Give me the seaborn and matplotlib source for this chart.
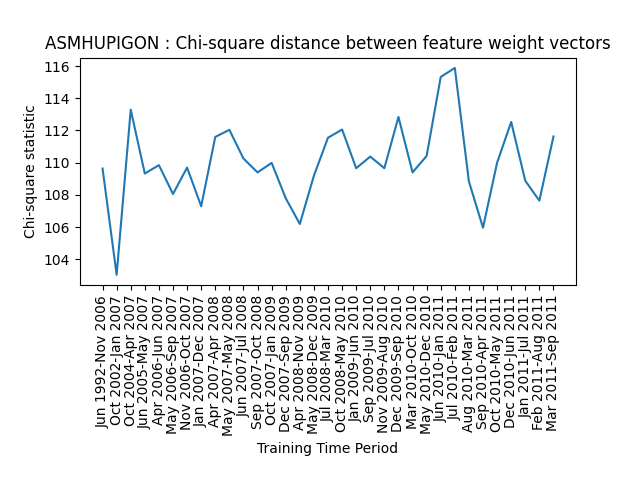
import matplotlib
matplotlib.use("Agg")
import matplotlib.pyplot as plt
import seaborn as sns
import pandas as pd

periods = [
    "Jun 1992-Nov 2006", "Oct 2002-Jan 2007", "Oct 2004-Apr 2007", "Jun 2005-May 2007",
    "Apr 2006-Jun 2007", "May 2006-Sep 2007", "Nov 2006-Oct 2007", "Jan 2007-Dec 2007",
    "Apr 2007-Apr 2008", "May 2007-May 2008", "Jun 2007-Jul 2008", "Sep 2007-Oct 2008",
    "Oct 2007-Jan 2009", "Dec 2007-Sep 2009", "Apr 2008-Nov 2009", "May 2008-Dec 2009",
    "Jul 2008-Mar 2010", "Oct 2008-May 2010", "Jan 2009-Jun 2010", "Sep 2009-Jul 2010",
    "Nov 2009-Aug 2010", "Dec 2009-Sep 2010", "Mar 2010-Oct 2010", "May 2010-Dec 2010",
    "Jun 2010-Jan 2011", "Jul 2010-Feb 2011", "Aug 2010-Mar 2011", "Sep 2010-Apr 2011",
    "Oct 2010-May 2011", "Dec 2010-Jun 2011", "Jan 2011-Jul 2011", "Feb 2011-Aug 2011",
    "Mar 2011-Sep 2011",
]
chi_square = [
    109.64, 103.05, 113.29, 109.33, 109.85, 108.06, 109.7, 107.3,
    111.6, 112.04, 110.26, 109.4, 109.99, 107.8, 106.2, 109.2,
    111.55, 112.06, 109.66, 110.38, 109.66, 112.84, 109.4, 110.42,
    115.32, 115.88, 108.84, 105.97, 110.0, 112.53, 108.88, 107.65,
    111.63,
]

df = pd.DataFrame({"idx": range(len(periods)), "chi": chi_square})

fig, ax = plt.subplots(figsize=(6.4, 4.8), dpi=100)
sns.lineplot(data=df, x="idx", y="chi", ax=ax, color="#1f77b4", linewidth=1.5)

ax.set_xticks(df["idx"])
ax.set_xticklabels(periods, rotation=90)
ax.set_title("ASMHUPIGON : Chi-square distance between feature weight vectors")
ax.set_xlabel("Training Time Period")
ax.set_ylabel("Chi-square statistic")

plt.subplots_adjust(left=0.125, right=0.9, top=0.88, bottom=0.406)
plt.savefig("out.png", dpi=100)
plt.close()
